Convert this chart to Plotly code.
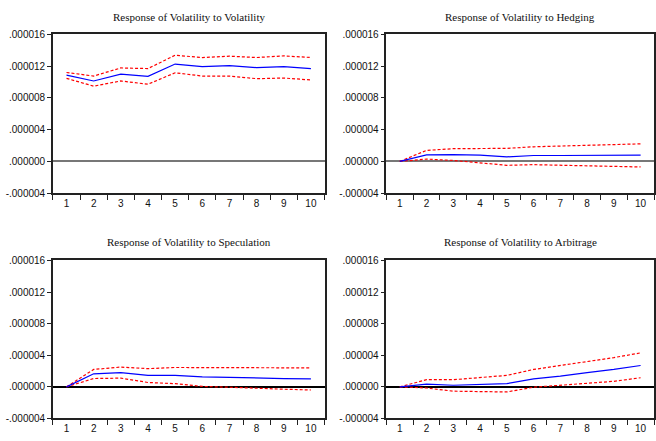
import plotly.graph_objects as go

periods = [1, 2, 3, 4, 5, 6, 7, 8, 9, 10]
titles = ["Response of Volatility to Volatility", "Response of Volatility to Hedging",
          "Response of Volatility to Speculation", "Response of Volatility to Arbitrage"]

# values in units of 1e-6
vol_mid = [10.86, 10.12, 10.98, 10.70, 12.25, 11.93, 12.05, 11.80, 11.93, 11.68]
vol_up = [11.19, 10.74, 11.76, 11.68, 13.36, 13.07, 13.24, 13.07, 13.28, 13.07]
vol_lo = [10.45, 9.47, 10.12, 9.71, 11.15, 10.74, 10.74, 10.41, 10.49, 10.25]

hed_mid = [0.0, 0.82, 0.86, 0.78, 0.57, 0.74, 0.74, 0.74, 0.74, 0.78]
hed_up = [0.0, 1.39, 1.60, 1.64, 1.64, 1.84, 1.93, 2.00, 2.09, 2.21]
hed_lo = [0.0, 0.29, 0.12, -0.16, -0.49, -0.41, -0.49, -0.57, -0.61, -0.70]

spe_mid = [0.0, 1.65, 1.80, 1.45, 1.45, 1.25, 1.20, 1.10, 1.05, 1.00]
spe_up = [0.0, 2.20, 2.50, 2.30, 2.45, 2.45, 2.45, 2.40, 2.40, 2.40]
spe_lo = [0.0, 1.05, 1.10, 0.55, 0.40, 0.05, -0.05, -0.20, -0.30, -0.40]

arb_mid = [0.0, 0.35, 0.20, 0.30, 0.40, 1.00, 1.35, 1.80, 2.20, 2.70]
arb_up = [0.0, 0.90, 0.90, 1.20, 1.45, 2.20, 2.70, 3.20, 3.70, 4.30]
arb_lo = [0.0, -0.15, -0.55, -0.60, -0.65, -0.05, 0.20, 0.45, 0.70, 1.15]

ytick_vals = [-4e-6, 0, 4e-6, 8e-6, 12e-6, 16e-6]
ytick_text = ["-.000004", ".000000", ".000004", ".000008", ".000012", ".000016"]

panels = [(vol_mid, vol_up, vol_lo), (hed_mid, hed_up, hed_lo),
          (spe_mid, spe_up, spe_lo), (arb_mid, arb_up, arb_lo)]

W, H = 656, 441
# pixel boxes: (left, right, top, bottom)
boxes = [(53, 325, 30, 193), (387, 655, 30, 193), (53, 325, 262, 424), (387, 655, 262, 424)]
title_y = [12, 12, 243, 243]
zero_col = ["#777777", "#777777", "#000000", "#000000"]

fig = go.Figure()
layout = dict(width=W, height=H, margin=dict(l=0, r=0, t=0, b=0),
              paper_bgcolor="white", plot_bgcolor="white", showlegend=False,
              annotations=[], shapes=[])

for i, (mid, up, lo) in enumerate(panels):
    n = i + 1
    xa = "x" if n == 1 else f"x{n}"
    ya = "y" if n == 1 else f"y{n}"
    for series, col, dash in [(up, "#ff0000", "3px,2px"), (lo, "#ff0000", "3px,2px"), (mid, "#0000ff", "solid")]:
        fig.add_trace(go.Scatter(x=periods, y=[v * 1e-6 for v in series], mode="lines",
                                 line=dict(color=col, width=1.2, dash=dash),
                                 xaxis=xa, yaxis=ya, hoverinfo="skip"))
    l, r, t, b = boxes[i]
    xkey = "xaxis" if n == 1 else f"xaxis{n}"
    ykey = "yaxis" if n == 1 else f"yaxis{n}"
    layout[xkey] = dict(domain=[l / W, r / W], range=[0.5, 10.5], anchor=ya,
                        tickmode="array", tickvals=periods, ticktext=[str(p) for p in periods],
                        ticks="", showgrid=False, zeroline=False,
                        showline=True, linecolor="#222222", linewidth=1.5, mirror=True,
                        tickfont=dict(family="Liberation Sans, Arial", size=10, color="#111111"),
                        minor=dict(tickmode="linear", tick0=0.5, dtick=1, ticks="outside",
                                   ticklen=5, tickwidth=1, tickcolor="#222222", showgrid=False))
    layout[ykey] = dict(domain=[(H - b) / H, (H - t) / H], range=[-4e-6, 16e-6], anchor=xa,
                        tickmode="array", tickvals=ytick_vals, ticktext=ytick_text,
                        ticks="outside", ticklen=4, tickwidth=1, tickcolor="#222222",
                        showgrid=False, zeroline=True, zerolinecolor=zero_col[i], zerolinewidth=1.5,
                        showline=True, linecolor="#222222", linewidth=1.5, mirror=True,
                        tickfont=dict(family="Liberation Sans, Arial", size=10, color="#111111"))
    layout["annotations"].append(dict(text=titles[i], xref="paper", yref="paper",
                                      x=(l + r) / 2 / W, y=(H - title_y[i]) / H,
                                      xanchor="center", yanchor="middle", showarrow=False,
                                      font=dict(family="Liberation Serif, Times New Roman", size=11, color="#111111")))

fig.update_layout(**layout)
fig.write_html("out.html")
